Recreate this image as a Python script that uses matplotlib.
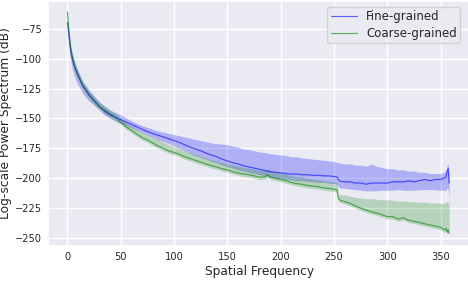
import matplotlib
matplotlib.use("Agg")
import matplotlib.pyplot as plt
import seaborn as sns
import numpy as np

sns.set_theme(style="darkgrid")
plt.rcParams['font.family'] = ['DejaVu Sans']

# spatial frequency samples
freq = [0, 1, 2, 3, 4, 5, 6, 8, 10, 12, 15, 18, 20, 25, 30, 35, 40, 45, 50,
        55, 60, 65, 70, 75, 80, 85, 90, 95, 100, 105, 110, 115, 120, 125, 130,
        135, 140, 145, 150, 155, 160, 165, 170, 175, 180, 185, 188, 190, 195,
        200, 205, 210, 215, 220, 225, 230, 235, 240, 245, 250, 253, 254, 256,
        260, 265, 270, 275, 280, 285, 290, 295, 300, 305, 310, 315, 320, 325,
        330, 335, 340, 345, 350, 353, 355, 356, 357, 358]

fine_mean = [-70, -78, -86, -93, -98, -102, -105, -110, -114, -118, -124, -127, -130, -135, -140, -144, -147, -149, -151,
             -153, -155, -157, -159, -161, -162.5, -164, -165.5, -167, -168.5, -170, -172, -174, -175.5, -177, -179,
             -180.5, -182, -184, -185.5, -187, -188, -189.5, -190.5, -191.5, -192.5, -193.5, -194, -194.5, -195,
             -195.5, -196, -196.5, -196.5, -197, -197, -197.5, -197.5, -198, -198, -198.5, -199, -201, -202.5,
             -203, -203, -204, -204, -205, -204, -204, -204, -204, -203, -203, -203, -202, -203,
             -202, -201, -202, -201, -201, -200, -199, -194, -192, -204]
fine_hi = [-67, -74, -82, -89, -94, -98, -101, -106, -110, -114, -120, -123, -126, -131, -136, -140, -143, -145, -147,
           -149.5, -152, -154, -156, -157.5, -159, -160.5, -161.5, -162.5, -163.5, -164.5, -165.5, -166.5, -167.5, -168.5, -169.5,
           -170.5, -171, -171.5, -172, -173, -174, -175.5, -176, -177, -178, -178.5, -179, -179.5, -180,
           -180.5, -181, -182, -182, -183, -183.5, -184, -184.5, -185, -185.5, -186, -186.5, -187, -187.5,
           -188, -188, -189, -189, -190, -188, -190, -191, -192, -192, -193, -193, -194, -194,
           -195, -195, -196, -196, -196, -195, -194, -189, -188, -196]
fine_lo = [-74, -84, -94, -101, -106, -110, -113, -118, -122, -125, -130, -133, -135, -139, -143, -147, -150, -152, -154,
           -156, -158, -160, -162, -164, -166, -168, -169.5, -171, -173, -175, -177, -179, -181, -182.5, -184,
           -186, -187, -189, -190.5, -191.5, -193, -194, -195, -196, -197, -198, -198.5, -199, -200,
           -200.5, -201, -201.5, -202, -202, -202.5, -203, -203.5, -203.5, -204, -204.5, -205, -207, -208,
           -208.5, -209, -209.5, -210, -210.5, -210.5, -210.5, -210, -210, -210, -209.5, -210, -210, -210,
           -209.5, -209.5, -209.5, -209.5, -210, -210, -210, -208, -209, -216]

coarse_mean = [-61, -72, -83, -91, -96, -99, -103, -109.5, -114, -118, -123, -127, -130, -135, -140, -143, -146, -149, -153,
               -157, -160, -163, -166, -168, -170.5, -173, -175, -177, -178.5, -180, -182, -183.5, -185, -186.5, -188,
               -189.5, -190.5, -192, -193, -194.5, -195.5, -196.5, -197, -198, -199, -199, -197, -199, -200,
               -201, -202, -203.5, -204.5, -205, -206, -206.5, -207, -208, -208.5, -209, -210, -217, -218.5,
               -219.5, -221, -223, -225, -226.5, -228, -229, -230.5, -232, -232, -234, -233, -235, -236,
               -237, -238, -239, -240, -241, -243, -242, -245, -243, -246]
coarse_hi = [-59, -69, -80, -88, -93, -96, -100, -106, -111, -115, -120, -124, -127, -132, -136.5, -139.5, -143, -146, -150,
             -154, -157, -159.5, -162, -164, -166, -168, -170, -172, -173.5, -175, -177, -178.5, -180, -181.5, -183,
             -184.5, -185.5, -187, -188, -189, -190, -191, -191.5, -192.5, -193.5, -193.5, -192, -193.5, -194.5,
             -195.5, -196.5, -198, -198.5, -199, -200, -200.5, -201, -202, -202.5, -203, -204, -213, -214,
             -214, -215, -216, -216.5, -217, -217, -217.5, -218, -218, -218.5, -219, -219, -219.5, -219.5,
             -220, -220, -220.5, -220.5, -221, -221, -220, -219.5, -220, -222]
coarse_lo = [-63, -75, -86, -94, -99, -102, -106, -112.5, -117, -121, -126, -130, -133, -138, -142, -146, -149, -152, -155,
             -159, -162, -165, -168, -170, -172.5, -175, -177, -179, -180.5, -182, -184, -185.5, -187, -188.5, -190,
             -191.5, -192.5, -194, -195, -196.5, -197.5, -198.5, -199, -200, -201, -201, -199.5, -201, -202,
             -203, -204, -205.5, -206.5, -207, -208, -208.5, -209, -210, -210.5, -211, -212, -219, -220.5,
             -221.5, -223, -225, -227, -228.5, -230, -231, -232.5, -234, -234, -236, -235, -237, -238,
             -239, -240, -241, -242, -243, -245, -244, -247, -245, -247]

fig = plt.figure(figsize=(4.68, 3.08), dpi=100)
ax = fig.add_axes([0.103, 0.2013, 0.9024, 0.7964])

ax.fill_between(freq, fine_lo, fine_hi, color='blue', alpha=0.25, linewidth=0)
ax.plot(freq, fine_mean, color='blue', alpha=0.6, linewidth=0.85, label='Fine-grained')
ax.fill_between(freq, coarse_lo, coarse_hi, color='green', alpha=0.22, linewidth=0)
ax.plot(freq, coarse_mean, color='green', alpha=0.6, linewidth=0.85, label='Coarse-grained')

ax.set_xlim(-18, 378)
ax.set_ylim(-256.6, -51.6)
ax.set_xticks([0, 50, 100, 150, 200, 250, 300, 350])
ax.set_yticks([-75, -100, -125, -150, -175, -200, -225, -250])
ax.tick_params(labelsize=7.1, pad=4.3, length=0)
ax.set_xlabel('Spatial Frequency', fontsize=8.8, labelpad=2)
ax.set_ylabel('Log-scale Power Spectrum (dB)', fontsize=8.8, labelpad=2)
leg = ax.legend(loc='upper right', fontsize=8.5, bbox_to_anchor=(0.99, 1.0),
                handlelength=2.2, borderpad=0.3, labelspacing=0.3)

fig.savefig('out.png', dpi=100)
